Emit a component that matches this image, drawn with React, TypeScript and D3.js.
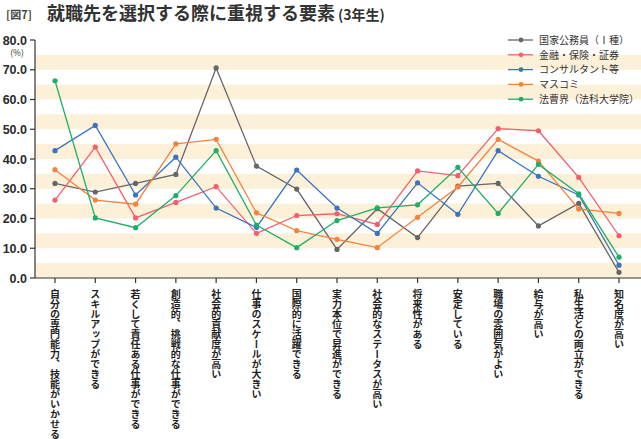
import React from "react";
import * as d3 from "d3";

const categories = [
  "自分の専門能力、技能がいかせる",
  "スキルアップができる",
  "若くして責任ある仕事ができる",
  "創造的、挑戦的な仕事ができる",
  "社会的貢献度が高い",
  "仕事のスケールが大きい",
  "国際的に活躍できる",
  "実力本位で昇進ができる",
  "社会的なステータスが高い",
  "将来性がある",
  "安定している",
  "職場の雰囲気がよい",
  "給与が高い",
  "私生活との両立ができる",
  "知名度が高い",
];

const seriesNames = ["国家公務員（Ⅰ種）", "金融・保険・証券", "コンサルタント等", "マスコミ", "法曹界（法科大学院）"];
const seriesColors = ["#666666", "#f0606c", "#3b73c0", "#f5823c", "#1fae68"];

const kokka = [31.8, 28.9, 31.8, 34.8, 70.6, 37.6, 29.9, 9.6, 23.3, 13.6, 30.9, 31.8, 17.5, 25.1, 1.9];
const kinyu = [26.2, 44.0, 20.2, 25.4, 30.7, 15.0, 21.0, 21.6, 18.0, 36.0, 34.4, 50.2, 49.5, 33.8, 14.2];
const consul = [42.8, 51.3, 27.9, 40.6, 23.5, 17.0, 36.3, 23.5, 15.0, 32.0, 21.4, 42.8, 34.2, 27.9, 4.3];
const masukomi = [36.4, 26.2, 24.8, 45.1, 46.6, 21.9, 15.9, 13.0, 10.2, 20.4, 30.6, 46.6, 39.3, 23.2, 21.7];
const hoso = [66.3, 20.2, 16.9, 27.7, 42.8, 17.8, 10.2, 19.3, 23.6, 24.6, 37.2, 21.7, 38.2, 28.3, 7.0];

const seriesValues = [kokka, kinyu, consul, masukomi, hoso];
const yTicks = [0, 10, 20, 30, 40, 50, 60, 70, 80];
const bands = [0, 10, 20, 30, 40, 50, 60, 70];

const W = 641;
const H = 439;
const FONT = "'Noto Sans CJK JP', 'Noto Sans', sans-serif";

export default function App() {
  const x = d3.scalePoint<string>().domain(categories).range([55, 619]);
  const y = d3.scaleLinear().domain([0, 80]).range([278, 40]);
  const axisX = 35;
  const line = d3
    .line<number>()
    .x((_, i) => x(categories[i]) as number)
    .y((d) => y(d));

  return (
    <svg
      width={W}
      height={H}
      style={{ position: "absolute", left: 0, top: 0, background: "#fff" }}
      fontFamily={FONT}
    >
      {/* bands */}
      {bands.map((b) => (
        <rect key={b} x={axisX} y={y(b + 5)} width={W - axisX} height={y(b) - y(b + 5)} fill="#fdf0d9" />
      ))}

      {/* title */}
      <text x={6} y={19} fontSize={11} fill="#444" fontWeight="bold">[図7]</text>
      <text x={47} y={20} fontSize={18} fill="#333" fontWeight="bold">
        就職先を選択する際に重視する要素
        <tspan fontSize={14} dx={3}>(3年生)</tspan>
      </text>

      {/* y axis */}
      <line x1={axisX} x2={axisX} y1={y(80)} y2={y(0)} stroke="#333" strokeWidth={1.2} />
      {yTicks.map((t) => (
        <g key={t}>
          <line x1={axisX - 5} x2={axisX} y1={y(t)} y2={y(t)} stroke="#333" strokeWidth={1.2} />
          <text x={27} y={y(t) + 4.5} fontSize={12.5} fontWeight="bold" textAnchor="end" fill="#2a2a2a" fontFamily="'Liberation Sans', Arial, sans-serif">
            {t.toFixed(1)}
          </text>
        </g>
      ))}
      <text x={17} y={56} fontSize={8.5} textAnchor="middle" fill="#333">(%)</text>

      {/* x axis */}
      <line x1={axisX} x2={W} y1={y(0)} y2={y(0)} stroke="#333" strokeWidth={1.2} />
      {categories.map((c) => (
        <g key={c}>
          <line x1={x(c)} x2={x(c)} y1={y(0)} y2={y(0) + 5} stroke="#333" strokeWidth={1.2} />
          <text
            x={x(c)}
            y={289}
            fontSize={10}
            fontWeight="bold"
            fill="#222"
            style={{ writingMode: "vertical-rl" } as any}
          >
            {c}
          </text>
        </g>
      ))}

      {/* series */}
      {seriesValues.map((vals, si) => (
        <g key={si}>
          <path d={line(vals) || ""} fill="none" stroke={seriesColors[si]} strokeWidth={1.3} />
          {vals.map((v, i) => (
            <circle key={i} cx={x(categories[i])} cy={y(v)} r={2.6} fill={seriesColors[si]} />
          ))}
        </g>
      ))}

      {/* legend */}
      {seriesNames.map((n, i) => {
        const ly = 40 + i * 14.8;
        return (
          <g key={n}>
            <line x1={508} x2={533} y1={ly} y2={ly} stroke={seriesColors[i]} strokeWidth={1.3} />
            <circle cx={521} cy={ly} r={2.4} fill={seriesColors[i]} />
            <text x={539} y={ly + 3.8} fontSize={10} fill="#333">{n}</text>
          </g>
        );
      })}
    </svg>
  );
}
